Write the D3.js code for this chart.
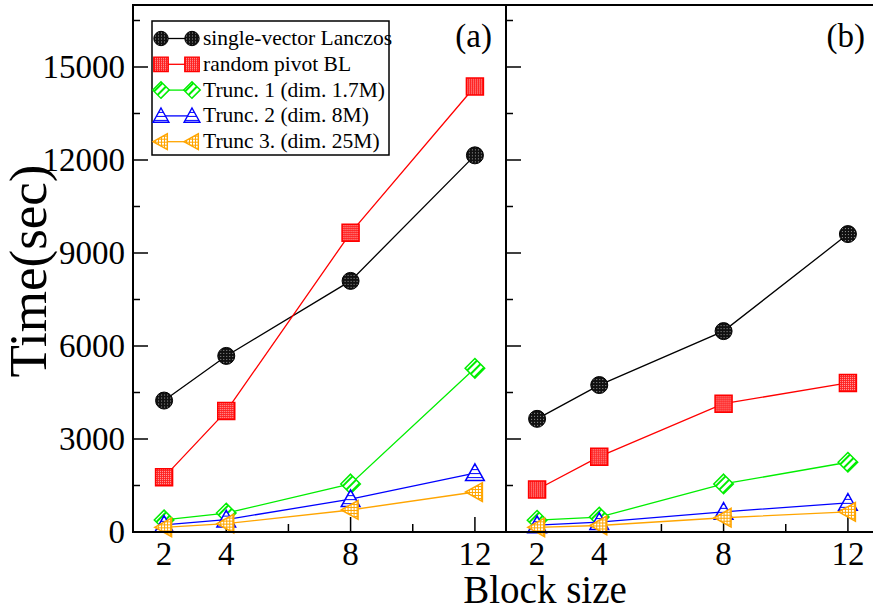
<!DOCTYPE html>
<html>
<head>
<meta charset="utf-8">
<script src="https://cdn.jsdelivr.net/npm/d3@7"></script>
<style>
  body { margin: 0; background: #fff; }
  text { font-family: "Liberation Serif", "Times New Roman", serif; fill: #000; }
</style>
</head>
<body>
<svg id="chart"></svg>
<script>
// block sizes on the x axis
let blockSizes = [2, 4, 8, 12];
let xTickLabels = [2, 4, 8, 12];
let xMinorTicks = [6, 10];
let yTickValues = [0, 3000, 6000, 9000, 12000, 15000];

let seriesNames = [
  "single-vector Lanczos",
  "random pivot BL",
  "Trunc. 1 (dim. 1.7M)",
  "Trunc. 2 (dim. 8M)",
  "Trunc 3. (dim. 25M)",
];

// panel (a)
let lanczosA = [4240, 5680, 8100, 12150];
let pivotA = [1770, 3900, 9650, 14370];
let trunc1A = [390, 610, 1550, 5280];
let trunc2A = [230, 400, 1060, 1900];
let trunc3A = [150, 270, 710, 1290];

// panel (b)
let lanczosB = [3650, 4740, 6480, 9610];
let pivotB = [1370, 2430, 4140, 4810];
let trunc1B = [380, 480, 1550, 2250];
let trunc2B = [220, 320, 650, 940];
let trunc3B = [150, 210, 460, 650];

let width = 873;
let height = 611;
let panelW = 373;
let plotTop = 5;
let plotBottom = 532;

let colors = ["#000000", "#ff0000", "#00ee00", "#0000ff", "#ffa500"];
let fills = ["url(#patBlack)", "url(#patRed)", "url(#patGreen)", "url(#patBlue)", "url(#patOrange)"];
let shapes = ["circle", "square", "diamond", "triUp", "triLeft"];

let svg = d3.select("#chart").attr("width", width).attr("height", height);
svg.append("rect").attr("width", width).attr("height", height).attr("fill", "#fff");

// hatch patterns like the grace symbols
let defs = svg.append("defs");
let pb = defs.append("pattern").attr("id", "patBlack").attr("patternUnits", "userSpaceOnUse")
  .attr("width", 3).attr("height", 3);
pb.append("rect").attr("width", 3).attr("height", 3).attr("fill", "#111");
pb.append("rect").attr("width", 1).attr("height", 1).attr("fill", "#999");

let pr = defs.append("pattern").attr("id", "patRed").attr("patternUnits", "userSpaceOnUse")
  .attr("width", 2).attr("height", 2);
pr.append("rect").attr("width", 2).attr("height", 2).attr("fill", "#ff2020");
pr.append("rect").attr("width", 1).attr("height", 1).attr("fill", "#ffb0b0");

let pg = defs.append("pattern").attr("id", "patGreen").attr("patternUnits", "userSpaceOnUse")
  .attr("width", 5).attr("height", 5).attr("patternTransform", "rotate(45)");
pg.append("rect").attr("width", 5).attr("height", 5).attr("fill", "#fff");
pg.append("rect").attr("width", 2).attr("height", 5).attr("fill", "#00ee00");

let pbl = defs.append("pattern").attr("id", "patBlue").attr("patternUnits", "userSpaceOnUse")
  .attr("width", 4).attr("height", 4);
pbl.append("rect").attr("width", 4).attr("height", 4).attr("fill", "#fff");
pbl.append("rect").attr("width", 4).attr("height", 1).attr("fill", "#0000ff");

let po = defs.append("pattern").attr("id", "patOrange").attr("patternUnits", "userSpaceOnUse")
  .attr("width", 3).attr("height", 3);
po.append("rect").attr("width", 3).attr("height", 3).attr("fill", "#fff");
po.append("rect").attr("width", 3).attr("height", 1).attr("fill", "#ffa500");
po.append("rect").attr("width", 1).attr("height", 3).attr("fill", "#ffa500");

function symbolPath(shape, s) {
  if (shape == "circle") {
    return `M${-s},0A${s},${s} 0 1,0 ${s},0A${s},${s} 0 1,0 ${-s},0Z`;
  } else if (shape == "square") {
    return `M${-s},${-s}H${s}V${s}H${-s}Z`;
  } else if (shape == "diamond") {
    let d = s * 1.15;
    return `M0,${-d}L${d},0L0,${d}L${-d},0Z`;
  } else if (shape == "triUp") {
    let d = s * 1.1;
    return `M0,${-d}L${d},${d * 0.8}L${-d},${d * 0.8}Z`;
  } else {
    let d = s * 1.1;
    return `M${-d},0L${d * 0.8},${-d}L${d * 0.8},${d}Z`;
  }
}

let y = d3.scaleLinear().domain([0, 17000]).range([plotBottom, plotTop]);

function drawPanel(x0, series, label, showY) {
  let x = d3.scaleLinear().domain([1, 13]).range([x0, x0 + panelW]);
  let g = svg.append("g");

  // y ticks (inward on left side)
  let yMinor = d3.range(1500, 17000, 3000);
  g.selectAll(".ymaj").data(yTickValues).join("line")
    .attr("x1", x0).attr("x2", x0 + 15)
    .attr("y1", (d) => y(d)).attr("y2", (d) => y(d))
    .attr("stroke", "#000").attr("stroke-width", 1.5);
  g.selectAll(".ymin").data(yMinor).join("line")
    .attr("x1", x0).attr("x2", x0 + 7)
    .attr("y1", (d) => y(d)).attr("y2", (d) => y(d))
    .attr("stroke", "#000").attr("stroke-width", 1.5);

  // x ticks (inward on bottom)
  g.selectAll(".xmaj").data(xTickLabels).join("line")
    .attr("x1", (d) => x(d)).attr("x2", (d) => x(d))
    .attr("y1", plotBottom).attr("y2", plotBottom - 15)
    .attr("stroke", "#000").attr("stroke-width", 1.5);
  g.selectAll(".xmin").data(xMinorTicks).join("line")
    .attr("x1", (d) => x(d)).attr("x2", (d) => x(d))
    .attr("y1", plotBottom).attr("y2", plotBottom - 8)
    .attr("stroke", "#000").attr("stroke-width", 1.5);

  g.selectAll(".xlab").data(xTickLabels).join("text")
    .attr("x", (d) => x(d)).attr("y", 565)
    .attr("text-anchor", "middle").attr("font-size", 33)
    .text((d) => d);

  if (showY) {
    g.selectAll(".ylab").data(yTickValues).join("text")
      .attr("x", x0 - 8).attr("y", (d) => y(d) + 11)
      .attr("text-anchor", "end").attr("font-size", 33)
      .text((d) => d);
  }

  // series lines and symbols
  let line = d3.line().x((d) => x(d[0])).y((d) => y(d[1]));
  series.forEach((vals, i) => {
    let pts = blockSizes.map((b, j) => [b, vals[j]]);
    g.append("path").datum(pts).attr("d", line)
      .attr("fill", "none").attr("stroke", colors[i]).attr("stroke-width", 1.3);
    g.selectAll(".sym" + i).data(pts).join("path")
      .attr("transform", (d) => `translate(${x(d[0])},${y(d[1])})`)
      .attr("d", symbolPath(shapes[i], 8.5))
      .attr("fill", fills[i])
      .attr("stroke", colors[i]).attr("stroke-width", i == 0 ? 1 : 1.5);
  });

  // frame
  g.append("rect").attr("x", x0).attr("y", plotTop)
    .attr("width", panelW).attr("height", plotBottom - plotTop)
    .attr("fill", "none").attr("stroke", "#000").attr("stroke-width", 2);

  g.append("text").attr("x", x0 + panelW - 14).attr("y", 47)
    .attr("text-anchor", "end").attr("font-size", 33).text(label);
}

drawPanel(133, [lanczosA, pivotA, trunc1A, trunc2A, trunc3A], "(a)", true);
drawPanel(506, [lanczosB, pivotB, trunc1B, trunc2B, trunc3B], "(b)", false);

// legend
let legend = svg.append("g");
legend.append("rect").attr("x", 152).attr("y", 21).attr("width", 237).attr("height", 134)
  .attr("fill", "#fff").attr("stroke", "#000").attr("stroke-width", 1.5);
seriesNames.forEach((name, i) => {
  let ly = 38.5 + i * 25.8;
  legend.append("line").attr("x1", 161).attr("x2", 192).attr("y1", ly).attr("y2", ly)
    .attr("stroke", colors[i]).attr("stroke-width", 1.3);
  [161, 192].forEach((lx) => {
    legend.append("path").attr("transform", `translate(${lx},${ly})`)
      .attr("d", symbolPath(shapes[i], 7.2))
      .attr("fill", fills[i])
      .attr("stroke", colors[i]).attr("stroke-width", i == 0 ? 1 : 1.4);
  });
  legend.append("text").attr("x", 203).attr("y", ly + 6.5)
    .attr("font-size", 21.5).text(name);
});

// axis titles
svg.append("text").attr("transform", "translate(46,271) rotate(-90)")
  .attr("text-anchor", "middle").attr("font-size", 53).text("Time(sec)");
svg.append("text").attr("x", 545).attr("y", 603)
  .attr("text-anchor", "middle").attr("font-size", 39).text("Block size");
</script>
</body>
</html>
